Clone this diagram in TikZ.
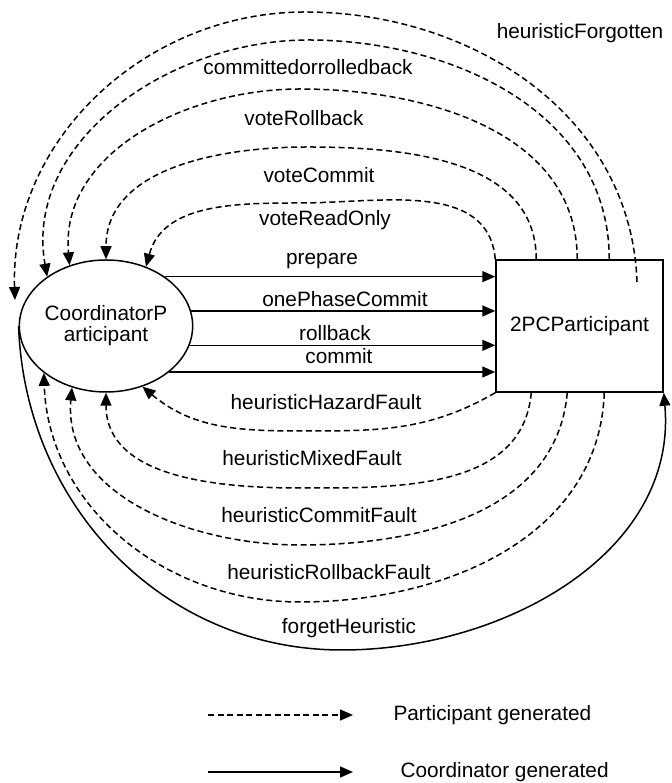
\documentclass[tikz,border=0pt]{standalone}
\usepackage{fontspec}
\setmainfont{Liberation Sans}
\usetikzlibrary{arrows.meta, shapes.geometric}

\begin{document}
\begin{tikzpicture}[x=1pt, y=1pt, >={Triangle[length=13pt,width=11pt]},
  every node/.style={font=\fontsize{20.8}{21}\selectfont},
  coordmsg/.style={->, line width=1.5pt},
  partmsg/.style={->, line width=1.5pt, dash pattern=on 6pt off 3.5pt}]
  \useasboundingbox (0,0) rectangle (671,783);

  % Coordinator and participant
  \node[ellipse, draw, line width=1.5pt, minimum width=170pt, minimum height=132pt,
        inner sep=0pt, align=center] (coord) at (106,457) {CoordinatorP\\articipant};
  \node[draw, line width=1.5pt, minimum width=167pt, minimum height=132pt] (part) at (579.5,457) {2PCParticipant};

  % Coordinator generated (straight)
  \draw[coordmsg] (coord.40.7) -- (coord.40.7 -| part.west);
  \draw[coordmsg] (coord.10.2) -- (coord.10.2 -| part.west);
  \draw[coordmsg] (coord.-13.9) -- (coord.-13.9 -| part.west);
  \draw[coordmsg] (coord.-36) -- (coord.-36 -| part.west);
  \node (lprepare) at (322,522) {prepare};
  \node (lonephase) at (345,484) {onePhaseCommit};
  \node (lrollback) at (335,450) {rollback};
  \node (lcommit) at (339,427) {commit};

  % Participant generated, above
  \draw[partmsg] (part.north west) to[out=95,in=0] (300,580) to[out=180,in=75] (coord.56);
  \draw[partmsg] ([xshift=41pt]part.north west) to[out=90,in=0] (308,636) to[out=180,in=90] (coord.90);
  \draw[partmsg] ([xshift=82pt]part.north west) to[out=90,in=0] (300,694) to[out=180,in=95] (coord.121);
  \draw[partmsg] ([xshift=114pt]part.north west) to[out=90,in=0] (308,743) to[out=180,in=100] (coord.140);
  \coordinate (hfstart) at (637,501);
  \coordinate (hfend) at (15,483);
  \draw[partmsg] (hfstart) to[out=92,in=0] (305,771) to[out=180,in=92] (hfend);
  \node (lreadonly) at (325,563) {voteReadOnly};
  \node (lvotecommit) at (319,608) {voteCommit};
  \node (lvoterollback) at (304,665) {voteRollback};
  \node (lcommitted) at (308,716) {committedorrolledback};
  \node (lforgotten) at (580,750) {heuristicForgotten};

  % Participant generated, below
  \draw[partmsg] (part.south west) to[out=-150,in=0] (300,352) to[out=180,in=-40] (coord.-59);
  \draw[partmsg] ([xshift=36pt]part.south west) to[out=-95,in=0] (300,295) to[out=180,in=-90] (coord.-90);
  \draw[partmsg] ([xshift=72pt]part.south west) to[out=-95,in=0] (300,238) to[out=180,in=-95] (coord.-119);
  \draw[partmsg] ([xshift=109pt]part.south west) to[out=-92,in=0] (300,181) to[out=180,in=-88] (coord.-143);
  \node (lhazard) at (326,381) {heuristicHazardFault};
  \node (lmixed) at (312,325) {heuristicMixedFault};
  \node (lcommitfault) at (319,268) {heuristicCommitFault};
  \node (lrollbackfault) at (329,211) {heuristicRollbackFault};

  % Coordinator generated, below
  \draw[coordmsg] (coord.west) to[out=-88,in=180] (342,133) to[out=0,in=-85] (part.south east);
  \node (lforget) at (349,155) {forgetHeuristic};

  % Legend
  \coordinate (pgA) at (208,68);
  \coordinate (pgB) at (353,68);
  \coordinate (cgA) at (208,11);
  \coordinate (cgB) at (353,11);
  \draw[partmsg] (pgA) -- (pgB);
  \draw[coordmsg] (cgA) -- (cgB);
  \node[anchor=west] (lpartgen) at (390,68) {Participant generated};
  \node[anchor=west] (lcoordgen) at (397,11) {Coordinator generated};
\end{tikzpicture}
\end{document}
